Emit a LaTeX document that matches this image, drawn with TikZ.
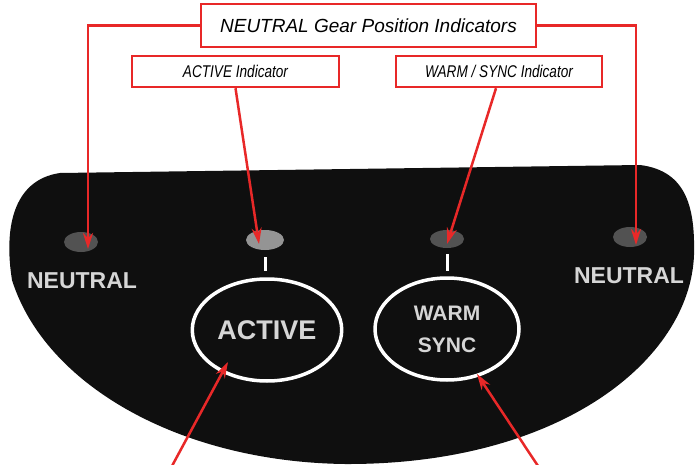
\documentclass[tikz,border=0pt]{standalone}
\usepackage{fontspec}
\setmainfont{Liberation Sans}
\newfontfamily\condfont[FakeStretch=0.8]{Liberation Sans}
\usetikzlibrary{arrows.meta}
\usetikzlibrary{shapes.geometric}
\definecolor{callred}{RGB}{232,40,40}
\definecolor{platetext}{RGB}{214,214,214}

\begin{document}
\begin{tikzpicture}[x=1pt, y=-1pt, ->, >={Stealth[length=16pt,width=10pt]},
    callout/.style = {draw=callred, line width=2.5pt, fill=white, inner sep=0pt},
    lead/.style = {callred, line width=2.5pt},
    led/.style = {ellipse, inner sep=0pt, minimum width=34pt, minimum height=20pt},
    ring/.style = {ellipse, draw=white, line width=3.5pt, minimum width=144pt, minimum height=102pt, text=platetext, font=\fontsize{27}{30}\selectfont\bfseries},
    plate/.style = {text=platetext, font=\fontsize{23}{26}\selectfont\bfseries},
    tick/.style = {-, white, line width=3pt}]

    \useasboundingbox (0,0) rectangle (695,465);

    % Panel
    \fill[black!94] (60,173) -- (640,165) .. controls (688,171) and (695,210) .. (694,255)
        .. controls (690,360) and (560,465) .. (345,464)
        .. controls (180,462) and (45,385) .. (12,280)
        .. controls (4,230) and (12,180) .. (60,173) -- cycle;

    % Lamps and labels
    \node[led, fill=black!68] (ledNL) at (81,242) {};
    \node[led, fill=black!42, minimum width=38pt] (ledA) at (265,240) {};
    \node[led, fill=black!68, minimum height=18pt] (ledW) at (447,239) {};
    \node[led, fill=black!68] (ledNR) at (630,237) {};

    \node[plate] (plateNL) at (82,281) {NEUTRAL};
    \node[plate] (plateNR) at (629,276) {NEUTRAL};
    \node[ring] (active) at (267,330) {ACTIVE};
    \node[ring, align=center, font=\fontsize{21}{32}\selectfont\bfseries] (warm) at (447,329) {WARM\\SYNC};

    \draw[tick] ([yshift=-7pt]ledA.south) -- ([yshift=6pt]ledA.south |- active.north);
    \draw[tick] ([yshift=-6pt]ledW.south) -- ([yshift=5pt]ledW.south |- warm.north);

    % Callouts
    \node[callout, minimum width=335pt, minimum height=43pt, font=\itshape\fontsize{19}{22}\selectfont] (gear) at (368.5,25.5) {NEUTRAL Gear Position Indicators};
    \node[callout, minimum width=207pt, minimum height=31pt, font=\condfont\itshape\fontsize{17}{20}\selectfont] (actind) at (235.5,71.5) {ACTIVE Indicator};
    \node[callout, minimum width=206pt, minimum height=31pt, font=\condfont\itshape\fontsize{17}{20}\selectfont] (warmind) at (499,71.5) {WARM / SYNC Indicator};

    \coordinate (bendNL) at (88,25.5);
    \coordinate (bendNR) at (636,25.5);
    \coordinate (tipNL) at (88,249);
    \coordinate (tipNR) at (636,245);
    \coordinate (tipA) at (259,244);
    \coordinate (tipW) at (447,244);
    \coordinate (fromA) at (172,466);
    \coordinate (fromW) at (538,466);
    \coordinate (tipAB) at (228,362);
    \coordinate (tipWB) at (477,374);

    % Leaders
    \draw[lead] (gear.west) -- (bendNL) -- (tipNL);
    \draw[lead] (gear.east) -- (bendNR) -- (tipNR);
    \draw[lead] (actind.south) -- (tipA);
    \draw[lead] ([xshift=-3pt]warmind.south) -- (tipW);
    \draw[lead] (fromA) -- (tipAB);
    \draw[lead] (fromW) -- (tipWB);

\end{tikzpicture}
\end{document}
